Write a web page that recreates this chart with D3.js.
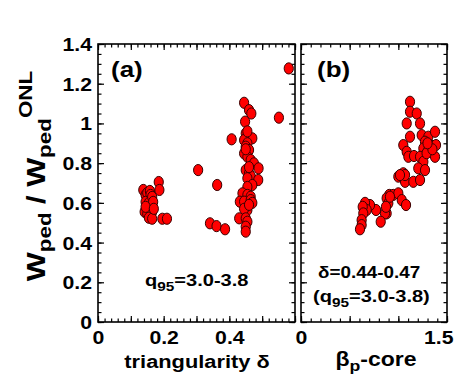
<!DOCTYPE html>
<html><head><meta charset="utf-8">
<script src="https://cdn.jsdelivr.net/npm/d3@7"></script>
<style>body{margin:0;background:#fff}svg{display:block}text{font-family:"Liberation Sans",Arial,sans-serif;font-weight:bold;fill:#000}</style>
</head><body><svg id="c" width="454" height="380"></svg>
<script>
// Panel (a): triangularity vs Wped/WpedONL
const deltaA = [0.138,0.145,0.150,0.158,0.160,0.145,0.150,0.155,0.165,0.168,0.142,0.150,0.160,0.165,0.155,0.165,0.185,0.187,0.196,0.210,0.145,0.170,
  0.305,0.363,0.341,0.361,0.387,0.407,0.551,0.581,
  0.445,0.460,0.467,0.448,0.450,0.455,0.470,0.445,0.455,0.450,0.460,0.445,0.455,0.465,0.475,0.489,0.450,0.460,0.465,0.455,0.488,0.470,0.455,0.440,0.455,0.465,0.432,0.445,0.465,0.470,0.455,0.445,0.430,0.450,0.455,0.450,0.450,0.460,0.450,0.455,0.460];
const wA = [0.665,0.640,0.650,0.660,0.640,0.605,0.580,0.600,0.630,0.605,0.555,0.545,0.560,0.555,0.525,0.520,0.705,0.665,0.520,0.520,0.580,0.570,
  0.765,0.690,0.497,0.483,0.467,0.920,1.029,1.277,
  1.104,1.067,1.050,1.009,0.950,0.935,0.925,0.916,0.900,0.883,0.866,0.849,0.832,0.816,0.799,0.774,0.765,0.749,0.735,0.724,0.715,0.690,0.680,0.648,0.640,0.631,0.606,0.606,0.614,0.600,0.564,0.570,0.522,0.522,0.505,0.480,0.455,0.590,0.870,0.960,0.780];
// Panel (b): beta_p-core vs Wped/WpedONL
const betaB = [1.120,1.120,1.189,1.086,1.223,1.051,1.120,1.240,1.308,1.377,1.274,1.325,1.387,1.257,1.308,1.377,1.086,1.103,1.161,1.223,1.257,1.205,1.274,1.000,1.051,1.069,1.154,1.223,1.069,1.017,0.907,0.948,1.000,0.880,0.897,1.035,1.079,0.880,0.863,0.819,0.771,0.709,0.658,0.675,0.634,0.640,0.623,0.623,0.606,0.873,0.914,1.290,1.350,1.300];
const wB = [1.109,1.059,1.050,1.000,1.000,0.891,0.933,0.941,0.933,0.958,0.908,0.891,0.891,0.874,0.866,0.832,0.857,0.832,0.836,0.832,0.807,0.774,0.765,0.732,0.749,0.706,0.706,0.715,0.740,0.740,0.640,0.640,0.648,0.623,0.598,0.614,0.589,0.547,0.547,0.505,0.564,0.589,0.600,0.564,0.580,0.547,0.513,0.488,0.467,0.580,0.631,0.850,0.870,0.900];
const yTickLabels = [0,0.2,0.4,0.6,0.8,1,1.2,1.4];
const xTickLabelsA = [0,0.2,0.4];
const xTickLabelsB = [0,1.5];

const S = 1.18; // horizontal stretch of lettering
const svg = d3.select("#c");
const plotTop = 44, plotBot = 322;
const y = d3.scaleLinear().domain([0,1.4]).range([plotBot, plotTop]);
const xa = d3.scaleLinear().domain([0,0.6]).range([98, 295]);
const xb = d3.scaleLinear().domain([0,1.5]).range([301, 447]);

function frame(x, majX, minX){
  const g = svg.append("g");
  const [x0,x1] = x.range();
  const yMaj = d3.range(0,1.401,0.2), yMin = d3.range(0,1.401,0.05);
  const xMaj = d3.range(0, x.domain()[1]+1e-9, majX), xMin = d3.range(0, x.domain()[1]+1e-9, minX);
  const mk = (axisFn, scale, vals, size, tr) => {
    const a = g.append("g").attr("transform", tr)
      .call(axisFn(scale).tickValues(vals).tickSize(size).tickFormat(""));
    a.select(".domain").remove();
    a.selectAll("line").attr("stroke","#000").attr("stroke-width",1.2);
  };
  mk(d3.axisLeft, y, yMaj, -6, `translate(${x0},0)`);
  mk(d3.axisLeft, y, yMin, -3.5, `translate(${x0},0)`);
  mk(d3.axisRight, y, yMaj, -6, `translate(${x1},0)`);
  mk(d3.axisRight, y, yMin, -3.5, `translate(${x1},0)`);
  mk(d3.axisBottom, x, xMaj, -6, `translate(0,${plotBot})`);
  mk(d3.axisBottom, x, xMin, -3.5, `translate(0,${plotBot})`);
  mk(d3.axisTop, x, xMaj, -6, `translate(0,${plotTop})`);
  mk(d3.axisTop, x, xMin, -3.5, `translate(0,${plotTop})`);
  g.append("rect").attr("x",x0).attr("y",plotTop).attr("width",x1-x0).attr("height",plotBot-plotTop)
    .attr("fill","none").attr("stroke","#000").attr("stroke-width",1.6);
}
frame(xa, 0.1, 0.02);
frame(xb, 0.5, 0.1);

// tick labels
function styleLabels(sel){
  sel.select(".domain").remove();
  sel.selectAll("text").attr("font-size",18).attr("fill","#000")
    .style("font-family","'Liberation Sans',Arial,sans-serif").style("font-weight","bold")
    .attr("transform",`scale(${S},1)`);
}
const yl = svg.append("g").attr("transform","translate(92,0)")
  .call(d3.axisLeft(y).tickValues(yTickLabels).tickSize(0).tickPadding(0).tickFormat(d=>d3.format("")(d)));
styleLabels(yl); yl.selectAll("text").attr("dy","0.36em");
const xla = svg.append("g").attr("transform",`translate(0,${plotBot+9})`)
  .call(d3.axisBottom(xa).tickValues(xTickLabelsA).tickSize(0).tickPadding(0).tickFormat(d=>d3.format("")(d)));
styleLabels(xla); xla.selectAll("text").attr("dy","0.71em");
const xlb = svg.append("g").attr("transform",`translate(0,${plotBot+9})`)
  .call(d3.axisBottom(xb).tickValues(xTickLabelsB).tickSize(0).tickPadding(0).tickFormat(d=>d3.format("")(d)));
styleLabels(xlb); xlb.selectAll("text").attr("dy","0.71em");
xlb.selectAll("text").filter(d=>d===1.5).attr("text-anchor","end").attr("x",(453-xb(1.5))/S);

// points
function pts(xs, ys, sc){
  svg.append("g").selectAll("ellipse").data(xs.map((d,i)=>[d,ys[i]])).join("ellipse")
    .attr("cx",d=>sc(d[0])).attr("cy",d=>y(d[1])).attr("rx",4.6).attr("ry",5.6)
    .attr("fill","#ff0000").attr("stroke","#3a0000").attr("stroke-width",1);
}
pts(deltaA, wA, xa);
pts(betaB, wB, xb);

// annotations
function txt(x, yy, size, anchor){
  return svg.append("text").attr("transform",`translate(${x},${yy}) scale(${S},1)`)
    .attr("font-size",size).attr("text-anchor",anchor||"start");
}
txt(111,77,22).text("(a)");
txt(317,77,22).text("(b)");
const q = txt(145,286,17);
q.append("tspan").text("q");
q.append("tspan").attr("dy",5).attr("font-size",13).text("95");
q.append("tspan").attr("dy",-5).text("=3.0-3.8");
txt(318,278,16).text("δ=0.44-0.47");
const q2 = txt(313,302,17);
q2.append("tspan").text("(q");
q2.append("tspan").attr("dy",5).attr("font-size",13).text("95");
q2.append("tspan").attr("dy",-5).text("=3.0-3.8)");

// axis titles
txt(197,368,18.5,"middle").text("triangularity δ");
const bt = txt(376,366,19.5,"middle");
bt.append("tspan").text("β");
bt.append("tspan").attr("dy",5).attr("font-size",15).text("p");
bt.append("tspan").attr("dy",-5).text("-core");
const yt = svg.append("text").attr("transform",`translate(45,176) rotate(-90) scale(${S},1)`)
  .attr("text-anchor","middle").attr("font-size",26);
yt.append("tspan").text("W");
yt.append("tspan").attr("dy",6).attr("font-size",19).text("ped");
yt.append("tspan").attr("dy",-6).text(" / W");
yt.append("tspan").attr("dy",6).attr("font-size",19).text("ped");
yt.append("tspan").attr("dy",-19).attr("font-size",19).text("ONL");
</script></body></html>
